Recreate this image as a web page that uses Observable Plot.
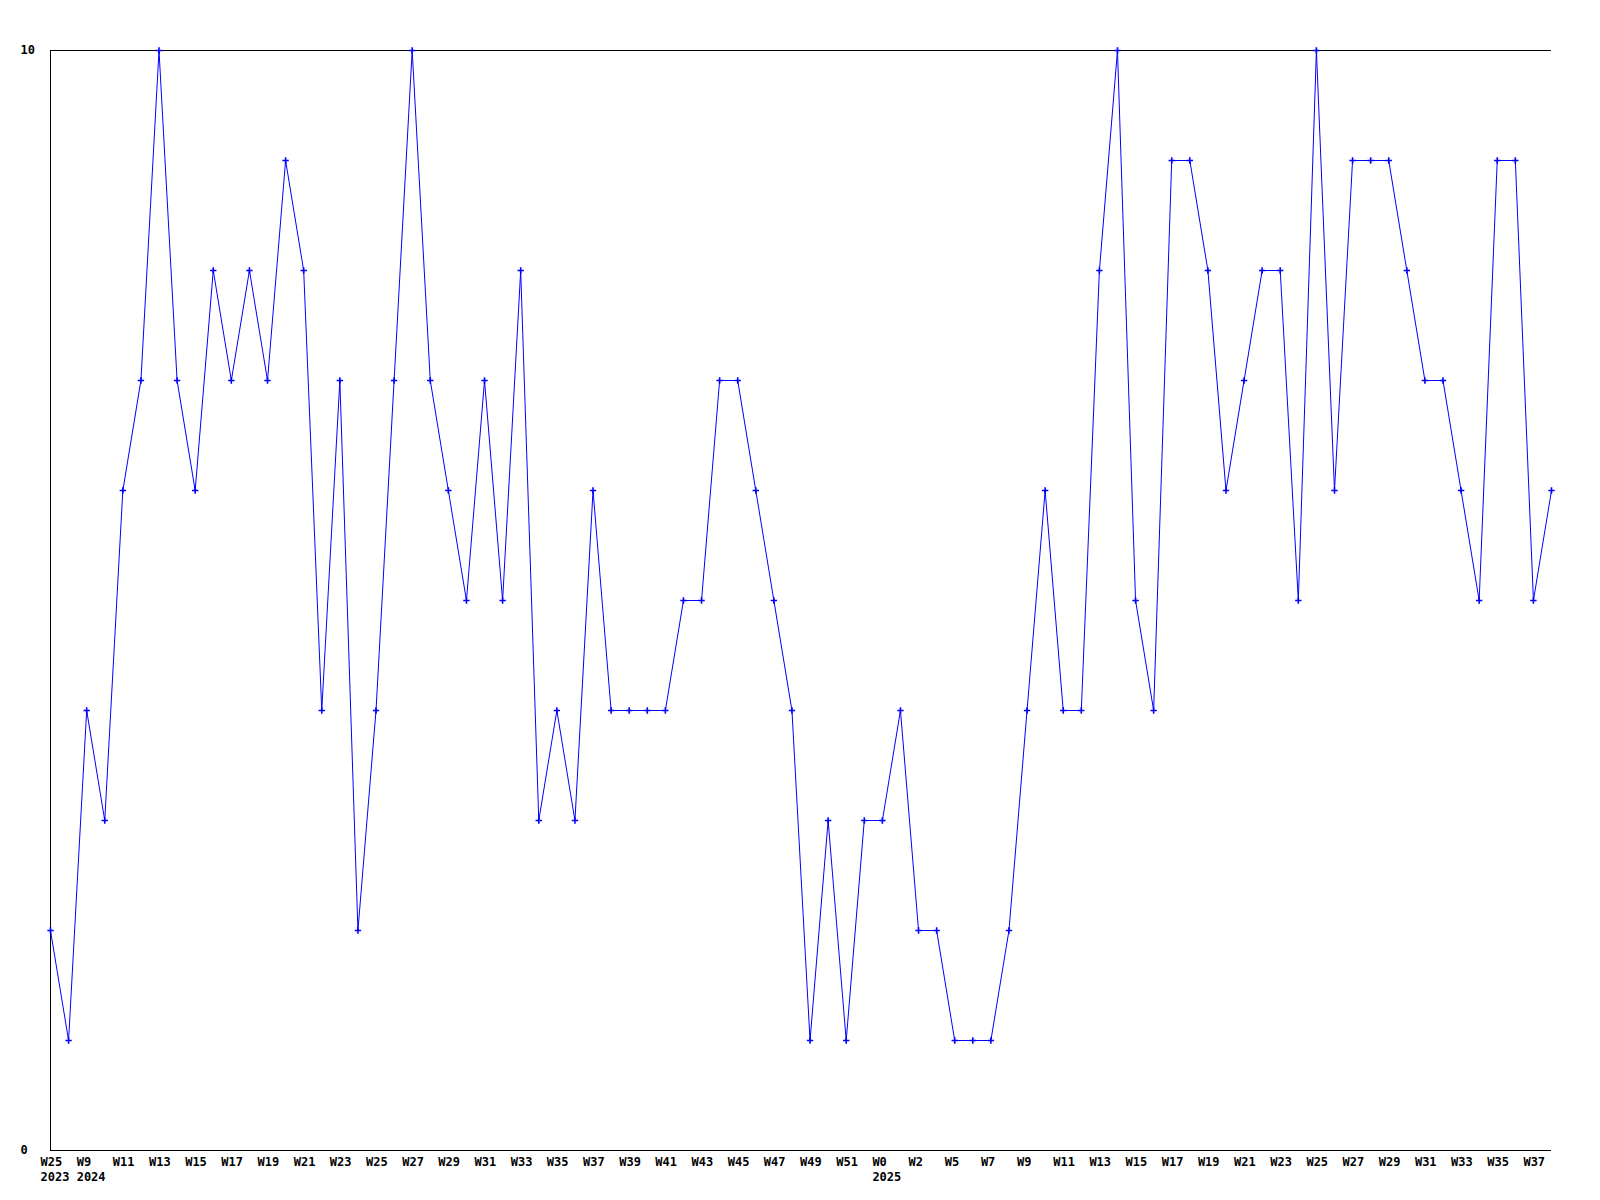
<!DOCTYPE html>
<html>
<head>
<meta charset="utf-8">
<script src="https://cdn.jsdelivr.net/npm/d3@7"></script>
<script src="https://cdn.jsdelivr.net/npm/@observablehq/plot@0.6"></script>
<style>
  html, body { margin: 0; padding: 0; background: #ffffff; }
  #chart svg { display: block; }
</style>
</head>
<body>
<div id="chart"></div>
<script>
const weeks = [
  "2023-W25",
  "2024-W8","2024-W9","2024-W10","2024-W11","2024-W12","2024-W13","2024-W14","2024-W15","2024-W16","2024-W17",
  "2024-W18","2024-W19","2024-W20","2024-W21","2024-W22","2024-W23","2024-W24","2024-W25","2024-W26","2024-W27",
  "2024-W28","2024-W29","2024-W30","2024-W31","2024-W32","2024-W33","2024-W34","2024-W35","2024-W36","2024-W37",
  "2024-W38","2024-W39","2024-W40","2024-W41","2024-W42","2024-W43","2024-W44","2024-W45","2024-W46","2024-W47",
  "2024-W48","2024-W49","2024-W50","2024-W51","2024-W52",
  "2025-W0","2025-W1","2025-W2","2025-W3","2025-W5","2025-W6","2025-W7","2025-W8","2025-W9","2025-W10",
  "2025-W11","2025-W12","2025-W13","2025-W14","2025-W15","2025-W16","2025-W17","2025-W18","2025-W19","2025-W20",
  "2025-W21","2025-W22","2025-W23","2025-W24","2025-W25","2025-W26","2025-W27","2025-W28","2025-W29","2025-W30",
  "2025-W31","2025-W32","2025-W33","2025-W34","2025-W35","2025-W36","2025-W37","2025-W38"
];

const values = [
  2, 1, 4, 3, 6, 7, 10, 7, 6, 8,
  7, 8, 7, 9, 8, 4, 7, 2, 4, 7,
  10, 7, 6, 5, 7, 5, 8, 3, 4, 3,
  6, 4, 4, 4, 4, 5, 5, 7, 7, 6,
  5, 4, 1, 3, 1, 3, 3, 4, 2, 2,
  1, 1, 1, 2, 4, 6, 4, 4, 8, 10,
  5, 4, 9, 9, 8, 6, 7, 8, 8, 5,
  10, 6, 9, 9, 9, 8, 7, 7, 6, 5,
  9, 9, 5, 6
];

const yTicks = [0, 10];

const data = weeks.map((w, i) => ({week: w, value: values[i]}));

// every other week is labelled
const xTicks = weeks.filter((w, i) => i % 2 === 0);
const firstOfYear = new Set();
{
  const seen = new Set();
  for (const t of xTicks) {
    const yr = t.split("-")[0];
    if (!seen.has(yr)) { seen.add(yr); firstOfYear.add(t); }
  }
}
const fmt = (d) => {
  const [yr, wk] = d.split("-");
  return firstOfYear.has(d) ? wk + "\n" + yr : wk;
};

const font = "'DejaVu Sans Mono', 'Liberation Mono', monospace";

const chart = Plot.plot({
  width: 1600,
  height: 1200,
  marginLeft: 50,
  marginRight: 49,
  marginTop: 50,
  marginBottom: 50,
  style: {fontFamily: font, fontSize: "12px", fontWeight: "bold", background: "#ffffff", color: "#000"},
  x: {type: "point", domain: weeks, padding: 0, round: false},
  y: {domain: [0, 10]},
  marks: [
    Plot.axisX({
      ticks: xTicks,
      tickFormat: fmt,
      tickSize: 0,
      tickPadding: 5,
      textAnchor: "start",
      dx: -10,
      lineHeight: 1.25,
      fontSize: 12,
      fontWeight: "bold",
      fontFamily: font,
      fill: "#000",
      label: null
    }),
    Plot.axisY({
      ticks: yTicks,
      tickSize: 0,
      tickPadding: 30,
      textAnchor: "start",
      fontSize: 12,
      fontWeight: "bold",
      fontFamily: font,
      fill: "#000",
      label: null
    }),
    Plot.ruleY(yTicks, {stroke: "#000", strokeWidth: 1}),
    Plot.ruleX([weeks[0]], {stroke: "#000", strokeWidth: 1}),
    Plot.line(data, {x: "week", y: "value", stroke: "#0000ff", strokeWidth: 1}),
    Plot.dot(data, {x: "week", y: "value", symbol: "plus", r: 2.2, stroke: "#0000ff", strokeWidth: 1.6})
  ]
});

document.getElementById("chart").appendChild(chart);
</script>
</body>
</html>
